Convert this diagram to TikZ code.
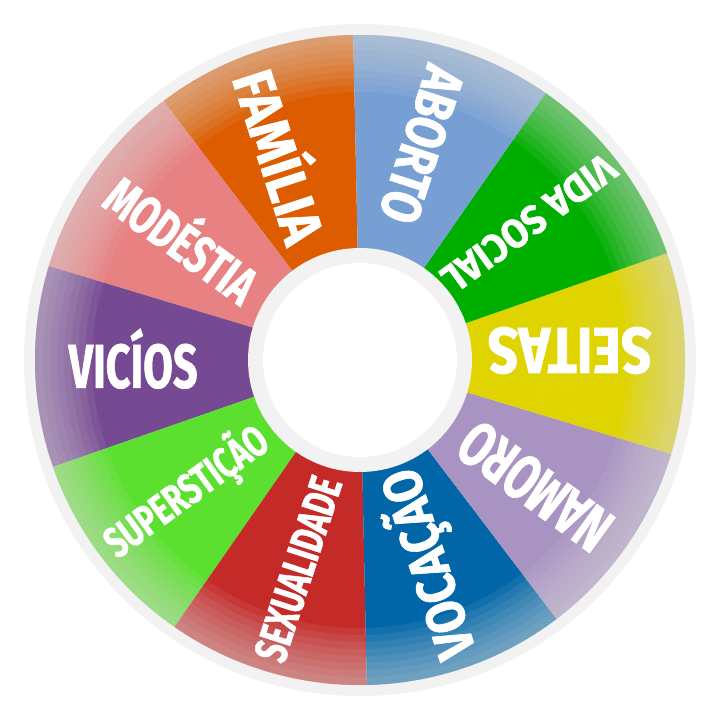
\documentclass[tikz,border=0pt]{standalone}
\usepackage{fontspec}
\setmainfont{Fira Sans}[FakeStretch=0.72, FakeBold=1]
\usepackage{graphicx}
\usepackage{xcolor}
\definecolor{wfamilia}{HTML}{DD5C00}
\definecolor{waborto}{HTML}{789FD3}
\definecolor{wvida}{HTML}{00AE00}
\definecolor{wseitas}{HTML}{E0D400}
\definecolor{wnamoro}{HTML}{A993C2}
\definecolor{wvocacao}{HTML}{0066A8}
\definecolor{wsexo}{HTML}{C42A28}
\definecolor{wsuper}{HTML}{5CE030}
\definecolor{wvicios}{HTML}{764A92}
\definecolor{wmodestia}{HTML}{E78182}
\definecolor{wring}{HTML}{F2F2F2}
\definecolor{wfade}{HTML}{DCDCDC}
\usepackage{tikz}
\usetikzlibrary{positioning}

% one pixel of the wheel, and a word fitted to length x cap height
\newlength\wpx
\setlength\wpx{0.02cm}
\newcommand\wword[3]{\resizebox{#1\wpx}{#2\wpx}{\vphantom{E}\smash{#3}}}

\begin{document}
\begin{tikzpicture}[x=0.02cm, y=0.02cm,
  lbl/.style={text=white, inner sep=0pt, anchor=center, font=\bfseries},
  fadeband/.style={fill=wfade, fill opacity=0.085}
]
  \useasboundingbox (-360,-359) rectangle (359,360);
  \fill[white] (-360,-359) rectangle (359,360);

  % outer ring
  \fill[wring] (0,0) circle[radius=336];

  % segments
  \fill[wfamilia]  (0,0) -- (91.2:325)  arc[start angle=91.2,  end angle=127.2, radius=325] -- cycle;
  \fill[wmodestia] (0,0) -- (127.2:325) arc[start angle=127.2, end angle=163.2, radius=325] -- cycle;
  \fill[wvicios]   (0,0) -- (163.2:325) arc[start angle=163.2, end angle=199.2, radius=325] -- cycle;
  \fill[wsuper]    (0,0) -- (199.2:325) arc[start angle=199.2, end angle=235.2, radius=325] -- cycle;
  \fill[wsexo]     (0,0) -- (235.2:325) arc[start angle=235.2, end angle=271.2, radius=325] -- cycle;
  \fill[wvocacao]  (0,0) -- (271.2:325) arc[start angle=271.2, end angle=307.2, radius=325] -- cycle;
  \fill[wnamoro]   (0,0) -- (307.2:325) arc[start angle=307.2, end angle=343.2, radius=325] -- cycle;
  \fill[wseitas]   (0,0) -- (-16.8:325) arc[start angle=-16.8, end angle=19.2,  radius=325] -- cycle;
  \fill[wvida]     (0,0) -- (19.2:325)  arc[start angle=19.2,  end angle=55.2,  radius=325] -- cycle;
  \fill[waborto]   (0,0) -- (55.2:325)  arc[start angle=55.2,  end angle=91.2,  radius=325] -- cycle;

  % faded rim
  \foreach \r in {268,275,...,318}
    \fill[fadeband, even odd rule] (0,0) circle[radius=325] circle[radius=\r];

  % hub
  \fill[wring] (0,0) circle[radius=112];
  \fill[white] (0,0) circle[radius=97];

  % labels
  \node[lbl, rotate=288] (familia)  at (112:219)    {\wword{178}{40}{FAMÍLIA}};
  \node[lbl, rotate=252] (aborto)   at (74:224)     {\wword{161}{39}{ABORTO}};
  \node[lbl, rotate=216] (vida)     at (39:217)     {\wword{205}{28}{VIDA SOCIAL}};
  \node[lbl, rotate=180] (seitas)   at (2.6:210)    {\wword{164}{45}{SEITAS}};
  \node[lbl, rotate=144] (namoro)   at (-35.8:216)  {\wword{172}{44}{NAMORO}};
  \node[lbl, rotate=108] (vocacao)  at (-71.5:215)  {\wword{195}{38}{VOCAÇÃO}};
  \node[lbl, rotate=72]  (sexo)     at (-106.5:218) {\wword{191}{32}{SEXUALIDADE}};
  \node[lbl, rotate=36]  (super)    at (-143:218)   {\wword{191}{30}{SUPERSTIÇÃO}};
  \node[lbl]             (vicios)   at (181.6:227)  {\wword{129}{43}{VICÍOS}};
  \node[lbl, rotate=324] (modestia) at (146.4:215)  {\wword{173}{37}{MODÉSTIA}};
\end{tikzpicture}
\end{document}
